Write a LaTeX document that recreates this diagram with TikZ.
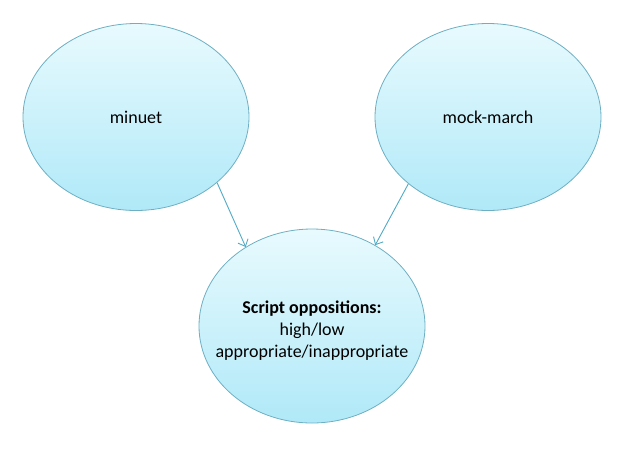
\documentclass[tikz,border=0pt]{standalone}
\usepackage{fontspec}
\setmainfont{Carlito}
\usetikzlibrary{shapes.geometric,arrows.meta}
\definecolor{rim}{RGB}{110,175,195}
\definecolor{arrowc}{RGB}{80,170,198}
\definecolor{topc}{RGB}{232,250,254}
\definecolor{botc}{RGB}{176,233,248}
\begin{document}
\begin{tikzpicture}[grow'=up, level distance=209pt,
  sibling distance=352pt,
  edge from parent/.style={draw=none},
  bubble/.style={ellipse, draw=rim, line width=0.8pt, top color=topc,
    bottom color=botc, minimum width=226pt, minimum height=187pt,
    inner sep=0pt, font=\fontsize{18}{22}\selectfont},
  arr/.style={draw=arrowc, line width=0.9pt, -{Straight Barb[length=6pt,width=11pt]}}]
  \useasboundingbox (0,0) rectangle (627pt,-451pt);
  \node[bubble, minimum height=194pt,
    label={[align=center, yshift=-5pt, font=\fontsize{18}{22}\selectfont]center:{\textbf{Script oppositions:}\\high/low\\appropriate/inappropriate}}]
    (opp) at (312pt,-326pt) {}
    child {node[bubble] (minuet) {minuet}}
    child {node[bubble] (march) {mock-march}};
  \draw[arr] (minuet.-39) -- (opp.130);
  \draw[arr] (march.220) -- (opp.52);
\end{tikzpicture}
\end{document}
